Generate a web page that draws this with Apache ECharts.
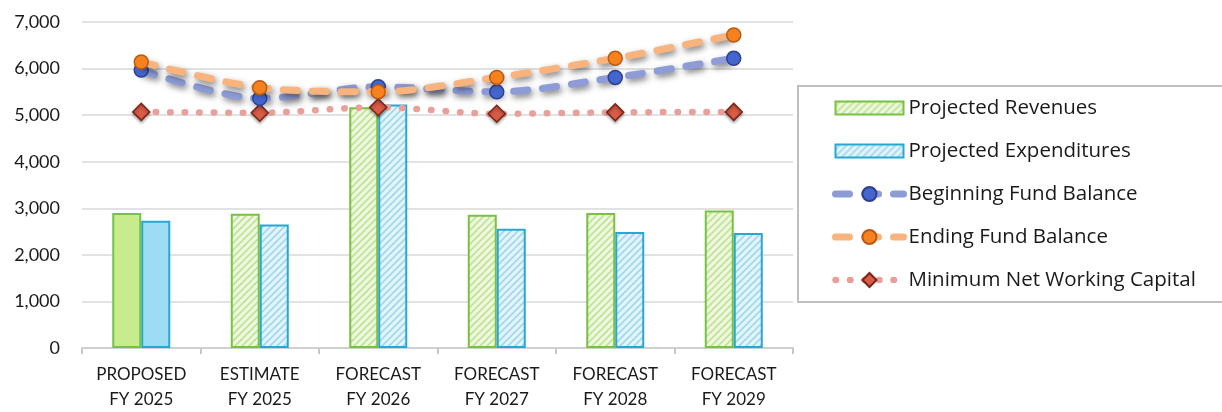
<!DOCTYPE html>
<html>
<head>
<meta charset="utf-8">
<script src="https://cdn.jsdelivr.net/npm/echarts@6/dist/echarts.min.js"></script>
<style>
  html, body { margin: 0; padding: 0; background: #ffffff; }
  #chart { width: 1222px; height: 412px; }
</style>
</head>
<body>
<div id="chart"></div>
<script>
// Fiscal periods shown on the category axis
const categories = [
  'PROPOSED\nFY 2025', 'ESTIMATE\nFY 2025', 'FORECAST\nFY 2026',
  'FORECAST\nFY 2027', 'FORECAST\nFY 2028', 'FORECAST\nFY 2029'
];

// Values in thousands of dollars
const projectedRevenues     = [2900, 2880, 5170, 2860, 2900, 2950];
const projectedExpenditures = [2730, 2650, 5230, 2560, 2490, 2470];
const beginningFundBalance  = [5970, 5360, 5610, 5500, 5810, 6220];
const endingFundBalance     = [6140, 5590, 5500, 5810, 6220, 6720];
const minNetWorkingCapital  = [5070, 5050, 5170, 5030, 5060, 5070];

const yTicks = [0, 1000, 2000, 3000, 4000, 5000, 6000, 7000];

const AXIS_FONT = 'Lato, "Open Sans", "Noto Sans", sans-serif';
const LEGEND_FONT = '"Open Sans", "Noto Sans", sans-serif';

// Flat swatch for the bar entries in the legend (kept shorter than the line icons)
const BAR_SWATCH = 'path://M0,0L68,0L68,13L0,13Z';

// Diagonal hatch fill used for estimated / forecast bars
function hatch(bg, stripe) {
  const c = document.createElement('canvas');
  c.width = 7; c.height = 7;
  const ctx = c.getContext('2d');
  ctx.fillStyle = bg;
  ctx.fillRect(0, 0, 7, 7);
  ctx.strokeStyle = stripe;
  ctx.lineWidth = 1.7;
  ctx.beginPath();
  ctx.moveTo(-1, 8); ctx.lineTo(8, -1);
  ctx.moveTo(-4, 4); ctx.lineTo(4, -4);
  ctx.moveTo(3, 11); ctx.lineTo(11, 3);
  ctx.stroke();
  return { image: c, repeat: 'repeat' };
}

const greenHatch = hatch('#EEF8E0', '#C2E396');
const blueHatch  = hatch('#E3F5FC', '#A2D7EE');

function barData(values, solidColor, borderColor) {
  // first period is a proposed (solid) figure, the rest are hatched
  return values.map((v, i) => i === 0
    ? { value: v, itemStyle: { color: solidColor, borderColor: borderColor } }
    : v);
}

const lineShadow = {
  shadowColor: 'rgba(0,0,0,0.5)',
  shadowBlur: 6,
  shadowOffsetX: 2,
  shadowOffsetY: 3
};

const chart = echarts.init(document.getElementById('chart'), null, { renderer: 'canvas' });

chart.setOption({
  animation: false,
  backgroundColor: '#ffffff',
  textStyle: { fontFamily: AXIS_FONT },
  grid: { left: 82, right: 429, top: 22, bottom: 62, containLabel: false },
  graphic: [{
    type: 'rect',
    shape: { x: 798, y: 86, width: 430, height: 216 },
    style: { fill: 'none', stroke: '#BFBFBF', lineWidth: 2 },
    silent: true, z: -1
  }],
  legend: {
    orient: 'vertical',
    left: 832,
    top: 97.5,
    padding: 0,
    itemWidth: 68,
    itemHeight: 17.5,
    itemGap: 22,
    lineStyle: { width: 'inherit' },
    textStyle: { fontFamily: LEGEND_FONT, fontSize: 20.5, color: '#1a1a1a', lineHeight: 18 },
    data: [
      { name: 'Projected Revenues', icon: BAR_SWATCH },
      { name: 'Projected Expenditures', icon: BAR_SWATCH },
      'Beginning Fund Balance',
      'Ending Fund Balance',
      'Minimum Net Working Capital'
    ]
  },
  xAxis: {
    type: 'category',
    data: categories,
    axisLine: { lineStyle: { color: '#D0D0D0', width: 2 } },
    axisTick: { show: true, length: 6, lineStyle: { color: '#C8C8C8', width: 2 } },
    axisLabel: {
      fontFamily: AXIS_FONT, fontSize: 17, color: '#1a1a1a',
      lineHeight: 25, margin: 14, interval: 0
    }
  },
  yAxis: {
    type: 'value',
    min: yTicks[0],
    max: yTicks[yTicks.length - 1],
    interval: yTicks[1] - yTicks[0],
    axisLine: { show: false },
    axisTick: { show: false },
    splitLine: { lineStyle: { color: '#D9D9D9', width: 1.5 } },
    axisLabel: {
      fontFamily: AXIS_FONT, fontSize: 18, color: '#1a1a1a', margin: 22,
      formatter: v => v.toLocaleString('en-US')
    }
  },
  series: [
    {
      name: 'Projected Revenues',
      type: 'bar',
      barWidth: 29,
      barGap: '0%',
      data: barData(projectedRevenues, '#C8EB8E', '#79C142'),
      itemStyle: { color: greenHatch, borderColor: '#79C142', borderWidth: 2 },
      z: 2
    },
    {
      name: 'Projected Expenditures',
      type: 'bar',
      barWidth: 29,
      barGap: '0%',
      data: barData(projectedExpenditures, '#9EDCF6', '#28A6D4'),
      itemStyle: { color: blueHatch, borderColor: '#28A6D4', borderWidth: 2 },
      z: 2
    },
    {
      name: 'Minimum Net Working Capital',
      type: 'line',
      data: minNetWorkingCapital,
      smooth: 0.3,
      symbol: 'diamond',
      symbolSize: 17,
      lineStyle: { color: '#E9A09A', width: 6.5, type: [0.5, 14], cap: 'round' },
      itemStyle: {
        color: '#D85C47', borderColor: '#7A2416', borderWidth: 1.5,
        shadowColor: 'rgba(0,0,0,0.3)', shadowBlur: 3, shadowOffsetY: 2
      },
      z: 3
    },
    {
      name: 'Beginning Fund Balance',
      type: 'line',
      data: beginningFundBalance,
      smooth: 0.3,
      symbol: 'circle',
      symbolSize: 14,
      lineStyle: Object.assign({ color: '#8D9BD6', width: 7, type: [14, 15], cap: 'round' }, lineShadow),
      itemStyle: { color: '#4466CC', borderColor: '#2E3F92', borderWidth: 1.5 },
      z: 4
    },
    {
      name: 'Ending Fund Balance',
      type: 'line',
      data: endingFundBalance,
      smooth: 0.3,
      symbol: 'circle',
      symbolSize: 14,
      lineStyle: Object.assign({ color: '#F9B37D', width: 7, type: [14, 15], cap: 'round' }, lineShadow),
      itemStyle: { color: '#F5821F', borderColor: '#B85A14', borderWidth: 1.5 },
      z: 5
    }
  ]
});
</script>
</body>
</html>
